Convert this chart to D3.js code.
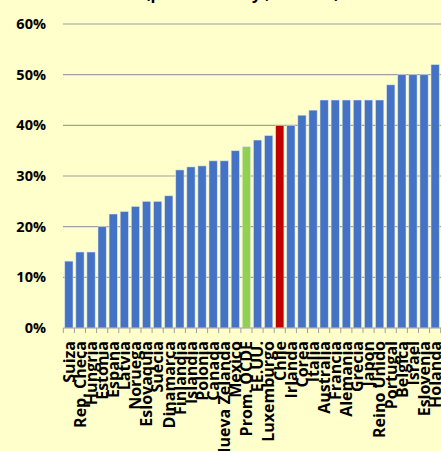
<!DOCTYPE html>
<html><head><meta charset="utf-8">
<script src="https://cdn.jsdelivr.net/npm/d3@7"></script>
<style>
html,body{margin:0;padding:0;background:#FFFFCC;overflow:hidden;}
svg{display:block;}
text{font-family:"Open Sans",sans-serif;font-weight:bold;fill:#000;}
</style></head><body>
<script>
const categories = ["Suiza","Rep. Checa","Hungria","Estonia","España","Latvia","Noruega","Eslovaquia","Suecia","Dinamarca","Finlandia","Islandia","Polonia","Canada","Nueva Zelanda","Mexico","Prom. OCDE","EE.UU.","Luxemburgo","Chile","Irlanda","Corea","Italia","Australia","Francia","Alemania","Grecia","Japon","Reino Unido","Portugal","Belgica","Israel","Eslovenia","Holanda"];
const values = [0.132,0.15,0.15,0.20,0.225,0.23,0.24,0.25,0.25,0.261,0.312,0.318,0.32,0.33,0.33,0.35,0.358,0.371,0.38,0.40,0.40,0.42,0.43,0.45,0.45,0.45,0.45,0.45,0.45,0.48,0.50,0.50,0.50,0.52];
const greenCats = ["Prom. OCDE"];
const redCats = ["Chile"];
const yTicks = [0,0.1,0.2,0.3,0.4,0.5,0.6];
const titleText = "(puntos base y , 2013-14)";

const W = 441, H = 451;
const svg = d3.select("body").append("svg").attr("width", W).attr("height", H);
svg.append("rect").attr("width", W).attr("height", H).attr("fill", "#FFFFCC");

const x = d3.scaleBand().domain(categories).range([63.3, 440.7]).paddingInner(0.25).paddingOuter(0.125);
const y = d3.scaleLinear().domain([0, 0.6]).range([328, 24]);

// title (clipped at top)
svg.append("text").attr("x", 145).attr("y", -1).attr("font-size", 16).text(titleText);

// gridlines
svg.append("g").selectAll("line").data(yTicks.filter(d => d > 0)).join("line")
  .attr("x1", 63).attr("x2", W).attr("y1", d => y(d)).attr("y2", d => y(d))
  .attr("stroke", "#A0A0A0").attr("stroke-width", 1.2);

// y labels
svg.append("g").selectAll("text").data(yTicks).join("text")
  .attr("x", 46).attr("y", d => y(d)).attr("dy", "0.35em").attr("text-anchor", "end")
  .attr("font-size", 14.5).text(d3.format(".0%"));

// bars
svg.append("g").selectAll("rect").data(categories).join("rect")
  .attr("x", d => x(d)).attr("width", x.bandwidth())
  .attr("y", (d, i) => y(values[i])).attr("height", (d, i) => y(0) - y(values[i]))
  .attr("fill", d => greenCats.includes(d) ? "#92D050" : redCats.includes(d) ? "#C00000" : "#4472C4")
  .attr("stroke", "rgba(230,235,245,0.7)").attr("stroke-width", 0.8);

// x axis
const step = x.step();
const bounds = d3.range(categories.length + 1).map(i => 63.3 + i * step);
svg.append("line").attr("x1", 63.3).attr("x2", W).attr("y1", y(0)).attr("y2", y(0))
  .attr("stroke", "#A0A0A0").attr("stroke-width", 1.2);
svg.append("g").selectAll("line").data(bounds).join("line")
  .attr("x1", d => d).attr("x2", d => d).attr("y1", y(0)).attr("y2", y(0) + 5)
  .attr("stroke", "#A0A0A0").attr("stroke-width", 1);

svg.append("g").selectAll("text").data(categories).join("text")
  .attr("transform", d => `translate(${x(d) + x.bandwidth() / 2},${y(0) + 13}) rotate(-90)`)
  .attr("dy", "0.36em").attr("text-anchor", "end").attr("font-size", 16).text(d => d);
</script>
</body></html>
